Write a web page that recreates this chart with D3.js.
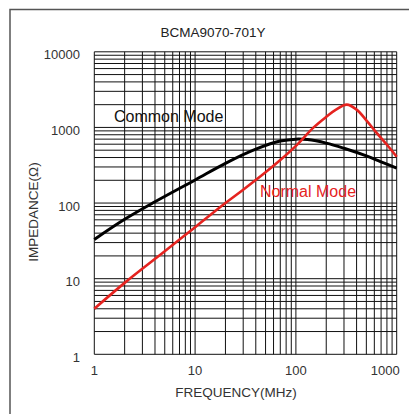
<!DOCTYPE html>
<html><head><meta charset="utf-8">
<script src="https://cdn.jsdelivr.net/npm/d3@7/dist/d3.min.js"></script>
<style>body{margin:0;background:#fff}svg{display:block;font-family:"Liberation Sans",Arial,sans-serif}</style>
</head><body>
<script>
const title = "BCMA9070-701Y";
const xTicks = [1, 10, 100, 1000];
const yTicks = [1, 10, 100, 1000, 10000];
const commonFreq = [1, 2, 4, 10, 20, 40, 70, 100, 130, 200, 300, 500, 700, 1000];
const commonZ    = [33, 61, 104, 202, 335, 515, 660, 700, 690, 620, 530, 420, 350, 290];
const normalFreq = [1, 2, 5, 10, 20, 30, 50, 70, 100, 150, 200, 250, 320, 400, 500, 600, 800, 1000];
const normalZ    = [4.0, 8.8, 23, 48, 100, 150, 255, 370, 570, 1000, 1380, 1720, 2000, 1720, 1240, 920, 590, 410];

const W = 409, H = 414;
const svg = d3.select("body").append("svg").attr("width", W).attr("height", H);
svg.append("rect").attr("x", 10).attr("y", 9.5).attr("width", 430).attr("height", 440)
  .attr("fill", "none").attr("stroke", "#555").attr("stroke-width", 1.5);

const x = d3.scaleLog().domain([1, 1000]).range([94.3, 396.7]);
const y = d3.scaleLog().domain([1, 10000]).range([354.3, 51.8]);

// grid
const g = svg.append("g").attr("stroke", "#111").attr("stroke-width", 1);
const xGrid = [];
for (let d = 1; d < 1000; d *= 10) for (let k = 1; k <= 10; k++) xGrid.push(d * k);
const yGrid = [];
for (let d = 1; d < 10000; d *= 10) for (let k = 1; k <= 10; k++) yGrid.push(d * k);
g.selectAll("line.v").data(Array.from(new Set(xGrid))).join("line")
  .attr("x1", d => x(d)).attr("x2", d => x(d)).attr("y1", y(1)).attr("y2", y(10000));
g.selectAll("line.h").data(Array.from(new Set(yGrid))).join("line").attr("class","h")
  .attr("y1", d => y(d)).attr("y2", d => y(d)).attr("x1", x(1)).attr("x2", x(1000));

// curves
const line = d3.line().x(d => x(d[0])).y(d => y(d[1])).curve(d3.curveCatmullRom.alpha(0.5));
svg.append("path").datum(commonFreq.map((f, i) => [f, commonZ[i]]))
  .attr("d", line).attr("fill", "none").attr("stroke", "#000").attr("stroke-width", 3);
svg.append("path").datum(normalFreq.map((f, i) => [f, normalZ[i]]))
  .attr("d", line).attr("fill", "none").attr("stroke", "#e5231f").attr("stroke-width", 2.6);

// tick labels
svg.selectAll("text.xt").data(xTicks).join("text").attr("class", "xt")
  .attr("x", d => d === 1000 ? x(d) + 3 : x(d)).attr("y", 374.5)
  .attr("text-anchor", d => d === 1000 ? "end" : "middle")
  .attr("font-size", 13).attr("fill", "#333").text(d => d);
svg.selectAll("text.yt").data(yTicks).join("text").attr("class", "yt")
  .attr("x", 80).attr("y", d => y(d) + 7.5).attr("text-anchor", "end")
  .attr("font-size", 13).attr("fill", "#333").text(d => d);

// titles
svg.append("text").attr("x", 213).attr("y", 37).attr("text-anchor", "middle")
  .attr("font-size", 13.5).attr("fill", "#222").text(title);
svg.append("text").attr("x", 236).attr("y", 396.5).attr("text-anchor", "middle")
  .attr("font-size", 13.5).attr("fill", "#333").text("FREQUENCY(MHz)");
svg.append("text").attr("transform", "translate(38,212) rotate(-90)").attr("text-anchor", "middle")
  .attr("font-size", 13.5).attr("fill", "#333").text("IMPEDANCE(Ω)");

// series labels
svg.append("text").attr("x", 114).attr("y", 122).attr("font-size", 16).attr("fill", "#111").text("Common Mode");
svg.append("text").attr("x", 260).attr("y", 197).attr("font-size", 16).attr("fill", "#e5231f").text("Normal Mode");
</script>
</body></html>
